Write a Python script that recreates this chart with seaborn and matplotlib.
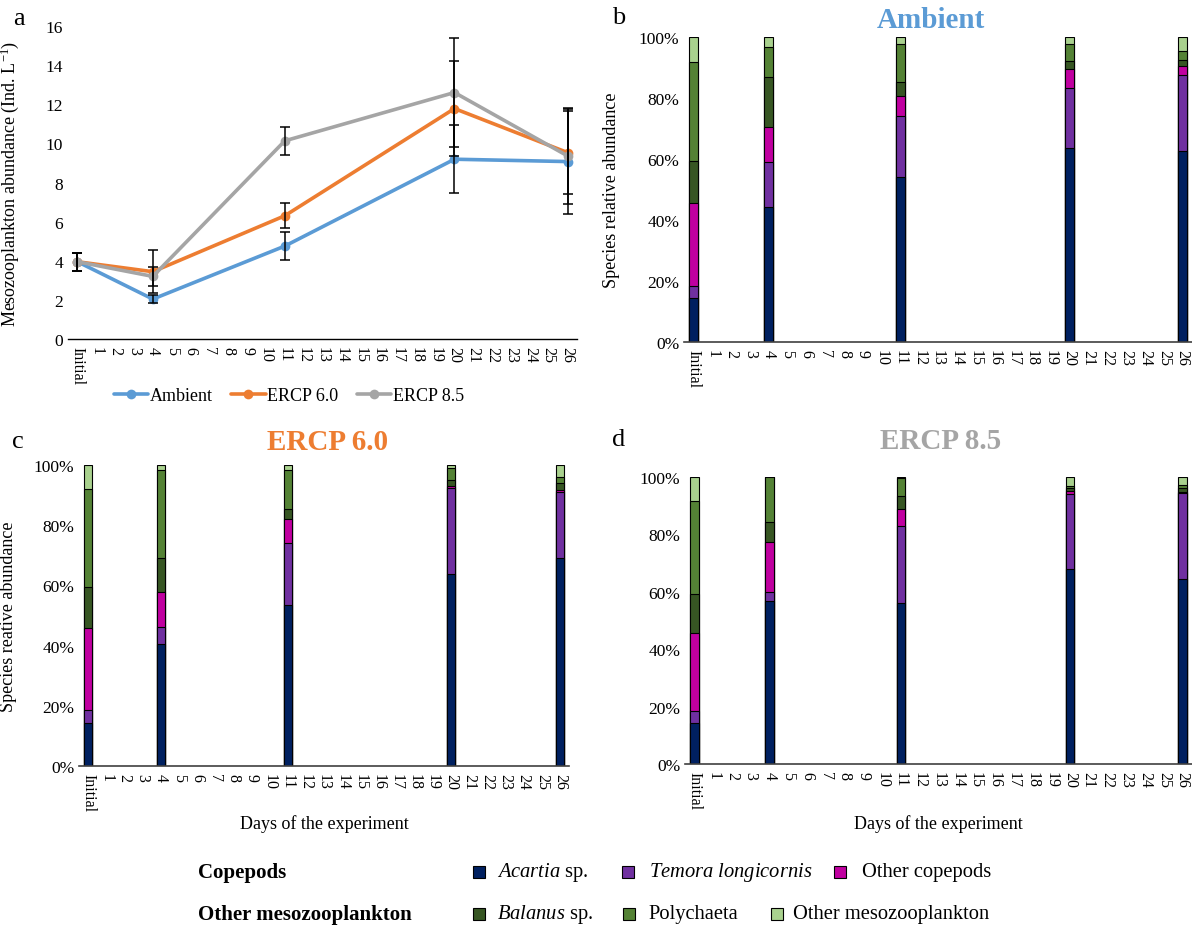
import numpy as np
import pandas as pd
import matplotlib
matplotlib.use("Agg")
import matplotlib.pyplot as plt
import seaborn as sns
from matplotlib.patches import Rectangle
from matplotlib.lines import Line2D

# ---------------- data ----------------
days = ["Initial"] + [str(i) for i in range(1, 27)]
sampled_days = ["Initial", "4", "11", "20", "26"]
treatments = ["Ambient", "ERCP 6.0", "ERCP 8.5"]
treat_colors = ["#5B9BD5", "#ED7D31", "#A5A5A5"]

ambient_mean = [3.95, 2.04, 4.75, 9.19, 9.07]
ambient_err = [0.45, 0.21, 0.73, 1.75, 2.69]
ercp60_mean = [3.95, 3.44, 6.30, 11.78, 9.53]
ercp60_err = [0.45, 1.10, 0.65, 2.45, 2.13]
ercp85_mean = [3.95, 3.20, 10.13, 12.60, 9.36]
ercp85_err = [0.45, 0.50, 0.70, 2.80, 2.46]

species = ["Acartia sp.", "Temora longicornis", "Other copepods",
           "Balanus sp.", "Polychaeta", "Other mesozooplankton"]
species_colors = ["#002060", "#7030A0", "#C000A0", "#375623", "#548235", "#A9D18E"]

# relative abundance (%) per sampled day, one list per species
amb_acartia = [14.3, 44.3, 54.0, 63.5, 62.6]
amb_temora = [4.2, 14.7, 20.2, 19.8, 25.1]
amb_othercop = [27.2, 11.4, 6.6, 6.3, 2.7]
amb_balanus = [13.8, 16.5, 4.5, 2.5, 2.2]
amb_poly = [32.3, 9.8, 12.5, 5.7, 2.8]
amb_othermeso = [8.2, 3.3, 2.2, 2.2, 4.6]

e60_acartia = [14.4, 40.4, 53.5, 63.7, 69.0]
e60_temora = [4.1, 5.8, 20.7, 28.5, 21.9]
e60_othercop = [27.3, 11.5, 7.7, 0.8, 0.9]
e60_balanus = [13.8, 11.5, 3.6, 2.0, 2.1]
e60_poly = [32.3, 29.0, 12.9, 4.1, 2.1]
e60_othermeso = [8.1, 1.8, 1.6, 0.9, 4.0]

e85_acartia = [14.3, 56.8, 56.0, 67.8, 64.3]
e85_temora = [4.1, 3.2, 27.1, 26.3, 30.1]
e85_othercop = [27.3, 17.5, 5.9, 1.1, 0.5]
e85_balanus = [13.7, 6.8, 4.5, 0.9, 1.1]
e85_poly = [32.4, 15.7, 6.0, 0.7, 1.1]
e85_othermeso = [8.2, 0.0, 0.5, 3.2, 2.9]

# ---------------- style ----------------
sns.set_theme(style="white")
plt.rcParams["font.family"] = ["Liberation Serif", "DejaVu Serif"]
plt.rcParams["mathtext.fontset"] = "custom"
plt.rcParams["mathtext.rm"] = "Liberation Serif"
plt.rcParams["mathtext.it"] = "Liberation Serif:italic"
plt.rcParams["mathtext.bf"] = "Liberation Serif:bold"
plt.rcParams["text.color"] = "black"
plt.rcParams["axes.labelcolor"] = "black"
plt.rcParams["xtick.color"] = "black"
plt.rcParams["ytick.color"] = "black"

W, H = 1192, 929
fig = plt.figure(figsize=(W / 100, H / 100), dpi=100)


def px_axes(l, r, t, b):
    return fig.add_axes([l / W, 1 - b / H, (r - l) / W, (b - t) / H])


ax_a = px_axes(68, 577, 27, 340)
ax_b = px_axes(684, 1192, 38, 343)
ax_c = px_axes(79, 569, 466, 767)
ax_d = px_axes(685, 1192, 478, 765)

# ---------------- panel a ----------------
means = [ambient_mean, ercp60_mean, ercp85_mean]
errs = [ambient_err, ercp60_err, ercp85_err]
rows = []
for t, m, e in zip(treatments, means, errs):
    for d, mv, ev in zip(sampled_days, m, e):
        rows.append({"treatment": t, "pos": days.index(d), "mean": mv, "err": ev})
df_a = pd.DataFrame(rows)

sns.lineplot(data=df_a, x="pos", y="mean", hue="treatment", hue_order=treatments,
             palette=treat_colors, marker="o", markersize=7, linewidth=2.6,
             markeredgewidth=0, ax=ax_a, legend=True, zorder=2)
for t in treatments:
    sub = df_a[df_a.treatment == t]
    ax_a.errorbar(sub["pos"], sub["mean"], yerr=sub["err"], fmt="none",
                  ecolor="black", elinewidth=1.1, capsize=3.5, capthick=1.1, zorder=3)

ax_a.set_xlim(-0.5, 26.5)
ax_a.set_ylim(0, 16)
ax_a.set_yticks(range(0, 17, 2))
ax_a.set_yticklabels([str(v) for v in range(0, 17, 2)], fontsize=12.5)
ax_a.set_xticks(range(len(days)))
ax_a.set_xticklabels(days, rotation=270, fontsize=11.5)
ax_a.tick_params(axis="both", length=0)
ax_a.tick_params(axis="x", pad=5)
ax_a.set_xlabel("")
ax_a.set_ylabel("Mesozooplankton abundance (Ind. L$^{-1}$)", fontsize=13)
ax_a.yaxis.set_label_coords(-0.092, 0.5)
for s in ["left", "top", "right"]:
    ax_a.spines[s].set_visible(False)
ax_a.spines["bottom"].set_color("black")
ax_a.spines["bottom"].set_linewidth(1.0)
handles = [Line2D([0], [0], color=c, lw=2.6, marker="o", markersize=7, markeredgewidth=0)
           for c in treat_colors]
ax_a.legend(handles, treatments, loc="center", bbox_to_anchor=(0.434, -0.18), ncol=3,
            frameon=False, fontsize=13, handlelength=1.9, handletextpad=0.1,
            columnspacing=1.0)

# ---------------- stacked bar panels ----------------
stack_data = {
    "Ambient": [amb_acartia, amb_temora, amb_othercop, amb_balanus, amb_poly, amb_othermeso],
    "ERCP 6.0": [e60_acartia, e60_temora, e60_othercop, e60_balanus, e60_poly, e60_othermeso],
    "ERCP 8.5": [e85_acartia, e85_temora, e85_othercop, e85_balanus, e85_poly, e85_othermeso],
}


def stacked(ax, treatment):
    layers = stack_data[treatment]
    rows = []
    for si, sp in enumerate(species):
        for di, d in enumerate(sampled_days):
            rows.append({"day": d, "species": sp, "si": si, "share": layers[si][di]})
    df = pd.DataFrame(rows)
    df["cum"] = df.sort_values("si").groupby("day")["share"].cumsum()
    tot = df.groupby("day")["share"].transform("sum")
    df["cum"] = df["cum"] / tot * 100
    for si in reversed(range(len(species))):
        sub = df[df.si == si]
        sns.barplot(data=sub, x="day", y="cum", order=days, color=species_colors[si],
                    saturation=1, width=0.45, edgecolor="black", linewidth=0.8,
                    errorbar=None, ax=ax)
    ax.set_xlim(-0.5, 26.5)
    ax.set_ylim(0, 100)
    ax.set_yticks(range(0, 101, 20))
    ax.set_yticklabels([f"{v}%" for v in range(0, 101, 20)], fontsize=12.5)
    ax.set_xticks(range(len(days)))
    ax.set_xticklabels(days, rotation=270, fontsize=11.5)
    ax.tick_params(axis="both", length=0)
    ax.tick_params(axis="x", pad=5)
    ax.set_xlabel("")
    ax.set_ylabel("")
    for s in ["left", "top", "right"]:
        ax.spines[s].set_visible(False)
    ax.spines["bottom"].set_color("#404040")
    ax.spines["bottom"].set_linewidth(1.2)


stacked(ax_b, "Ambient")
stacked(ax_c, "ERCP 6.0")
stacked(ax_d, "ERCP 8.5")

ax_b.set_ylabel("Species relative abundance", fontsize=13)
ax_b.yaxis.set_label_coords(-0.126, 0.5)
ax_c.set_ylabel("Species reative abundance", fontsize=13)
ax_c.yaxis.set_label_coords(-0.127, 0.5)
ax_c.set_xlabel("Days of the experiment", fontsize=13)
ax_c.xaxis.set_label_coords(0.5, -0.16)
ax_d.set_xlabel("Days of the experiment", fontsize=13)
ax_d.xaxis.set_label_coords(0.5, -0.174)

# titles
fig.text(931 / W, 1 - 21 / H, "Ambient", color=treat_colors[0], fontsize=21,
         fontweight="bold", ha="center", va="center")
fig.text(328 / W, 1 - 443 / H, "ERCP 6.0", color=treat_colors[1], fontsize=21,
         fontweight="bold", ha="center", va="center")
fig.text(941 / W, 1 - 442 / H, "ERCP 8.5", color=treat_colors[2], fontsize=21,
         fontweight="bold", ha="center", va="center")

# panel letters
for letter, x, y in [("a", 19, 19), ("b", 619, 18), ("c", 18, 442), ("d", 619, 440)]:
    fig.text(x / W, 1 - y / H, letter, fontsize=19, ha="center", va="center")

# ---------------- bottom legend ----------------
row_y = [873, 915]
fig.text(198 / W, 1 - row_y[0] / H, "Copepods", fontsize=15, fontweight="bold",
         ha="left", va="center")
fig.text(198 / W, 1 - row_y[1] / H, "Other mesozooplankton", fontsize=15,
         fontweight="bold", ha="left", va="center")
legend_items = [
    (0, 473, 497, r"$\it{Acartia}$ sp."),
    (1, 622, 649, r"$\it{Temora\ longicornis}$"),
    (2, 834, 862, "Other copepods"),
    (3, 473, 497, r"$\it{Balanus}$ sp."),
    (4, 623, 648, "Polychaeta"),
    (5, 771, 793, "Other mesozooplankton"),
]
sq = 12
for si, sx, tx, label in legend_items:
    y = row_y[si // 3]
    fig.add_artist(Rectangle((sx / W, 1 - (y + sq / 2) / H), sq / W, sq / H,
                             transform=fig.transFigure, facecolor=species_colors[si],
                             edgecolor="black", linewidth=0.8))
    fig.text(tx / W, 1 - y / H, label, fontsize=14.8, ha="left", va="center")

fig.savefig("out.png", dpi=100)
